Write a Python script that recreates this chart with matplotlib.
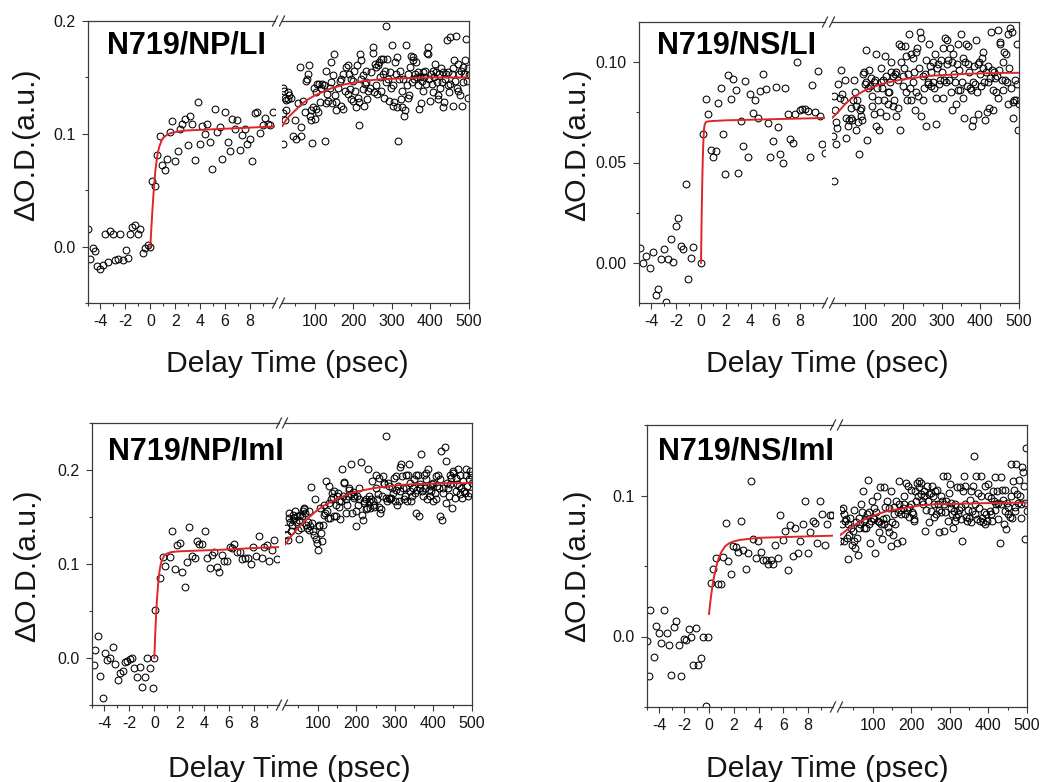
import matplotlib
matplotlib.use("Agg")
import matplotlib.pyplot as plt
from matplotlib.lines import Line2D
from matplotlib.ticker import FixedLocator

plt.rcParams['font.family'] = ['Liberation Sans', 'DejaVu Sans']

W, H = 1043, 782

# ---------------- data (delay time in ps, dOD in a.u.) ----------------
titles = ["N719/NP/LI", "N719/NS/LI", "N719/NP/ImI", "N719/NS/ImI"]
x_label = "Delay Time (psec)"
y_label = "ΔO.D.(a.u.)"

p1_early = [(-5.0,0.016),(-4.8,-0.011),(-4.6,-0.001),(-4.4,-0.004),(-4.26,-0.017),(-4.04,-0.020),(-3.8,-0.016),(-3.6,0.011),(-3.4,-0.014),(-3.24,0.014),(-3.0,0.011),(-2.84,-0.012),(-2.6,-0.011),(-2.44,0.011),(-2.22,-0.012),(-1.98,-0.003),(-1.8,-0.010),(-1.63,0.011),(-1.45,0.017),(-1.23,0.019),(-1.02,0.011),(-0.83,0.016),(-0.59,-0.006),(-0.43,-0.001),(-0.21,0.001),(-0.05,0.0),(0.16,0.058),(0.37,0.054),(0.56,0.081),(0.78,0.098),(0.96,0.072),(1.15,0.068),(1.37,0.078),(1.55,0.102),(1.77,0.111),(1.98,0.076),(2.2,0.085),(2.38,0.104),(2.57,0.109),(2.78,0.113),(3.0,0.090),(3.19,0.116),(3.37,0.109),(3.59,0.077),(3.8,0.128),(3.99,0.091),(4.18,0.107),(4.36,0.100),(4.58,0.109),(4.79,0.093),(4.98,0.069),(5.19,0.122),(5.38,0.102),(5.6,0.106),(5.78,0.078),(5.99,0.119),(6.21,0.093),(6.4,0.085),(6.59,0.113),(6.8,0.104),(6.99,0.112),(7.18,0.086),(7.39,0.099),(7.58,0.104),(7.79,0.091),(8.0,0.095),(8.19,0.076),(8.38,0.118),(8.59,0.119),(8.78,0.101),(9.0,0.108),(9.18,0.114),(9.4,0.109),(9.58,0.108),(9.8,0.119)]
p1_late = [(18,0.141),(20,0.138),(22,0.132),(26,0.130),(31,0.137),(18,0.118),(22,0.112),(26,0.121),(31,0.131),(18,0.091),(33,0.134),(39,0.132),(44,0.098),(48,0.112),(51,0.095),(57,0.127),(61,0.159),(63,0.098),(65,0.106),(70,0.129),(74,0.119),(78,0.147),(80,0.149),(83,0.153),(85,0.161),(87,0.116),(89,0.121),(91,0.112),(92,0.092),(96,0.124),(98,0.141),(100,0.113),(103,0.122),(104,0.137),(106,0.144),(109,0.119),(111,0.144),(113,0.128),(117,0.141),(120,0.144),(124,0.143),(126,0.094),(129,0.127),(130,0.156),(132,0.135),(135,0.129),(139,0.141),(141,0.146),(143,0.164),(145,0.127),(148,0.152),(149,0.171),(152,0.134),(155,0.121),(156,0.128),(161,0.141),(165,0.147),(168,0.149),(169,0.125),(172,0.153),(174,0.122),(178,0.138),(182,0.159),(185,0.161),(187,0.135),(189,0.153),(191,0.140),(194,0.131),(195,0.149),(198,0.129),(200,0.147),(201,0.156),(204,0.138),(207,0.124),(210,0.161),(213,0.132),(214,0.108),(215,0.128),(217,0.171),(219,0.165),(221,0.149),(224,0.140),(226,0.152),(227,0.125),(230,0.144),(232,0.146),(234,0.156),(236,0.131),(239,0.138),(243,0.141),(247,0.155),(250,0.172),(252,0.177),(254,0.137),(256,0.162),(258,0.159),(260,0.143),(262,0.135),(265,0.161),(267,0.164),(269,0.150),(271,0.138),(273,0.166),(276,0.153),(278,0.166),(280,0.132),(282,0.156),(284,0.196),(286,0.146),(288,0.166),(291,0.149),(293,0.129),(295,0.155),(297,0.141),(299,0.179),(302,0.125),(304,0.143),(306,0.128),(308,0.164),(310,0.153),(312,0.168),(314,0.124),(316,0.094),(319,0.149),(321,0.156),(323,0.131),(325,0.138),(327,0.124),(329,0.149),(332,0.116),(334,0.121),(336,0.179),(338,0.143),(341,0.153),(342,0.132),(345,0.134),(347,0.159),(349,0.169),(351,0.146),(354,0.168),(355,0.165),(358,0.149),(360,0.153),(362,0.164),(364,0.150),(367,0.143),(368,0.155),(371,0.122),(373,0.150),(375,0.127),(377,0.147),(380,0.155),(381,0.138),(384,0.150),(386,0.156),(388,0.144),(390,0.172),(393,0.171),(394,0.177),(397,0.149),(399,0.129),(401,0.153),(403,0.144),(406,0.156),(407,0.137),(410,0.150),(412,0.162),(414,0.155),(416,0.146),(419,0.131),(420,0.134),(423,0.153),(425,0.141),(427,0.158),(429,0.146),(432,0.155),(433,0.124),(436,0.128),(438,0.149),(440,0.153),(442,0.183),(445,0.143),(446,0.155),(449,0.137),(451,0.144),(452,0.186),(455,0.153),(458,0.125),(459,0.158),(461,0.165),(464,0.147),(466,0.187),(468,0.141),(471,0.162),(472,0.138),(475,0.153),(477,0.134),(479,0.156),(481,0.125),(484,0.159),(485,0.146),(488,0.153),(490,0.165),(492,0.184),(494,0.147),(497,0.158),(498,0.132),(500,0.152)]
p1_fit_early_t = [0, 0.1, 0.2, 0.3, 0.4, 0.5, 0.6, 0.7, 0.8, 0.9, 1.0, 1.2, 1.4, 1.6, 1.8, 2.0, 2.5, 3, 4, 5, 6, 7, 8, 9, 10]
p1_fit_early_od = [0, 0.020, 0.038, 0.054, 0.067, 0.076, 0.083, 0.088, 0.091, 0.094, 0.096, 0.098, 0.0995, 0.1005, 0.101, 0.1015, 0.1025, 0.103, 0.1035, 0.104, 0.1045, 0.105, 0.1055, 0.106, 0.1065]
p1_fit_late_t = [16, 25, 35, 50, 65, 80, 100, 120, 140, 160, 180, 200, 230, 260, 300, 350, 400, 450, 500]
p1_fit_late_od = [0.107, 0.112, 0.116, 0.121, 0.126, 0.130, 0.134, 0.137, 0.140, 0.142, 0.144, 0.1452, 0.147, 0.148, 0.1488, 0.1495, 0.150, 0.150, 0.150]

p2_early = [(-4.95,0.0074),(-4.68,0.0),(-4.46,0.0033),(-4.09,-0.0026),(-3.87,0.0054),(-3.6,-0.016),(-3.44,-0.0129),(-3.25,0.0017),(-3.0,0.0071),(-2.82,-0.0193),(-2.63,0.002),(-2.45,0.0117),(-2.23,0.0003),(-2.04,0.0185),(-1.83,0.0223),(-1.64,0.0084),(-1.45,0.0069),(-1.24,0.0393),(-1.05,-0.0078),(-0.83,0.0026),(-0.62,0.0079),(-0.03,0.0),(0.16,0.0644),(0.38,0.0814),(0.59,0.0743),(0.81,0.0564),(0.99,0.0528),(1.18,0.0558),(1.4,0.0795),(1.59,0.0871),(1.77,0.0644),(1.96,0.0442),(2.18,0.0934),(2.39,0.0814),(2.58,0.0917),(2.8,0.086),(2.98,0.0446),(3.2,0.0706),(3.39,0.0583),(3.58,0.0908),(3.76,0.0525),(3.98,0.0842),(4.17,0.0748),(4.35,0.081),(4.57,0.0723),(4.78,0.0858),(5.0,0.094),(5.22,0.0866),(5.4,0.0698),(5.59,0.0528),(5.81,0.0607),(6.02,0.0875),(6.21,0.0677),(6.4,0.0541),(6.61,0.0498),(6.8,0.0871),(7.02,0.0743),(7.2,0.0616),(7.39,0.0599),(7.58,0.0743),(7.77,0.1),(7.96,0.0764),(8.15,0.0769),(8.36,0.0769),(8.6,0.0756),(8.82,0.0525),(8.98,0.0888),(9.22,0.0752),(9.41,0.0954),(9.6,0.0731),(9.78,0.0591),(9.97,0.0545)]
p2_late = [(19,0.041),(19,0.083),(22,0.076),(18,0.063),(26,0.059),(25,0.070),(28,0.067),(31,0.089),(35,0.082),(39,0.096),(42,0.084),(45,0.081),(48,0.091),(51,0.062),(52,0.072),(57,0.068),(59,0.071),(63,0.072),(65,0.077),(68,0.071),(70,0.081),(71,0.091),(74,0.085),(77,0.078),(78,0.066),(80,0.081),(83,0.070),(85,0.054),(87,0.076),(89,0.073),(91,0.077),(94,0.071),(96,0.094),(98,0.095),(100,0.089),(103,0.090),(104,0.106),(106,0.061),(109,0.087),(111,0.096),(113,0.088),(116,0.092),(118,0.083),(120,0.078),(123,0.090),(125,0.074),(127,0.091),(129,0.068),(130,0.104),(132,0.087),(135,0.081),(137,0.066),(139,0.075),(141,0.090),(143,0.097),(145,0.087),(148,0.091),(149,0.081),(152,0.103),(155,0.093),(156,0.073),(159,0.079),(161,0.085),(163,0.085),(165,0.090),(168,0.095),(169,0.100),(172,0.093),(174,0.078),(176,0.081),(178,0.094),(181,0.095),(182,0.073),(185,0.091),(187,0.077),(189,0.109),(191,0.066),(194,0.108),(195,0.100),(198,0.093),(200,0.088),(201,0.097),(204,0.108),(207,0.085),(208,0.103),(210,0.081),(213,0.094),(215,0.114),(217,0.087),(220,0.104),(221,0.081),(224,0.090),(226,0.102),(228,0.095),(230,0.076),(232,0.105),(234,0.085),(236,0.107),(239,0.083),(241,0.097),(243,0.115),(245,0.112),(247,0.073),(250,0.093),(252,0.081),(254,0.087),(256,0.094),(258,0.101),(260,0.068),(263,0.089),(265,0.090),(267,0.109),(269,0.098),(271,0.088),(273,0.095),(276,0.090),(278,0.100),(280,0.087),(282,0.104),(284,0.082),(286,0.069),(288,0.097),(291,0.099),(293,0.089),(295,0.091),(297,0.101),(299,0.095),(302,0.082),(303,0.107),(305,0.091),(308,0.112),(310,0.090),(312,0.111),(314,0.099),(316,0.101),(319,0.091),(321,0.107),(323,0.085),(325,0.076),(327,0.100),(329,0.104),(332,0.094),(334,0.090),(336,0.079),(338,0.099),(341,0.109),(342,0.086),(345,0.096),(347,0.086),(349,0.114),(351,0.090),(354,0.102),(355,0.082),(358,0.072),(360,0.100),(362,0.109),(364,0.088),(367,0.099),(368,0.108),(371,0.095),(373,0.087),(375,0.086),(377,0.068),(380,0.090),(381,0.071),(384,0.098),(386,0.089),(388,0.111),(390,0.085),(393,0.074),(394,0.099),(397,0.100),(399,0.094),(401,0.088),(403,0.102),(406,0.097),(407,0.105),(409,0.090),(412,0.071),(414,0.095),(416,0.075),(419,0.090),(420,0.098),(423,0.077),(425,0.092),(427,0.115),(429,0.096),(432,0.076),(433,0.086),(435,0.095),(438,0.092),(440,0.085),(442,0.093),(445,0.082),(446,0.116),(449,0.096),(451,0.109),(452,0.110),(455,0.091),(458,0.100),(459,0.086),(462,0.105),(464,0.091),(466,0.104),(468,0.090),(471,0.079),(472,0.114),(475,0.097),(477,0.117),(478,0.087),(481,0.115),(484,0.080),(485,0.072),(487,0.081),(490,0.091),(492,0.081),(494,0.109),(496,0.089),(498,0.066),(500,0.079)]
p2_fit_early_t = [0, 0.05, 0.1, 0.15, 0.2, 0.25, 0.3, 0.4, 0.6, 1, 2, 4, 6, 8, 10]
p2_fit_early_od = [0, 0.022, 0.040, 0.053, 0.062, 0.067, 0.069, 0.0702, 0.0705, 0.0707, 0.071, 0.0713, 0.0716, 0.0719, 0.0722]
p2_fit_late_t = [16, 30, 52, 70, 96, 120, 139, 160, 182, 200, 226, 250, 269, 300, 355, 400, 442, 500]
p2_fit_late_od = [0.0723, 0.075, 0.0797, 0.0825, 0.0855, 0.0875, 0.0888, 0.0899, 0.0908, 0.0915, 0.0921, 0.0927, 0.0932, 0.0935, 0.0941, 0.0944, 0.0946, 0.0947]

p3_early = [(-4.85,-0.007),(-4.77,0.009),(-4.53,0.023),(-4.32,-0.019),(-4.13,-0.043),(-3.97,0.005),(-3.79,-0.002),(-3.52,0.0),(-3.31,0.012),(-3.12,-0.006),(-2.93,-0.023),(-2.72,-0.016),(-2.53,-0.014),(-2.37,-0.004),(-2.19,-0.003),(-1.97,-0.001),(-1.79,0.0),(-1.6,-0.011),(-1.39,-0.02),(-1.17,-0.01),(-0.99,-0.031),(-0.77,-0.02),(-0.59,0.0),(-0.37,-0.011),(-0.13,-0.032),(0.0,0.0),(0.08,0.051),(0.43,0.085),(0.69,0.107),(0.88,0.098),(1.23,0.107),(1.41,0.135),(1.63,0.095),(1.81,0.12),(2.03,0.122),(2.21,0.092),(2.43,0.076),(2.61,0.102),(2.8,0.139),(3.01,0.108),(3.23,0.106),(3.41,0.124),(3.6,0.121),(3.81,0.121),(4.03,0.135),(4.21,0.106),(4.43,0.096),(4.61,0.11),(4.8,0.113),(5.01,0.097),(5.2,0.091),(5.41,0.11),(5.6,0.103),(5.81,0.103),(6.03,0.118),(6.21,0.117),(6.43,0.121),(6.67,0.113),(6.88,0.113),(7.07,0.105),(7.28,0.106),(7.49,0.106),(7.73,0.1),(7.95,0.118),(8.16,0.108),(8.4,0.13),(8.61,0.106),(8.8,0.118),(9.01,0.12),(9.23,0.103),(9.41,0.115),(9.6,0.126),(9.81,0.105)]
p3_late = [(18,0.138),(19,0.131),(22,0.126),(25,0.149),(26,0.154),(28,0.145),(31,0.135),(33,0.142),(35,0.152),(37,0.147),(39,0.149),(42,0.156),(44,0.145),(45,0.151),(48,0.136),(51,0.127),(52,0.147),(54,0.152),(57,0.138),(59,0.151),(61,0.156),(63,0.159),(65,0.160),(68,0.154),(70,0.142),(71,0.138),(74,0.145),(77,0.136),(78,0.156),(80,0.140),(83,0.182),(85,0.144),(87,0.135),(91,0.131),(94,0.169),(96,0.127),(98,0.122),(100,0.115),(103,0.140),(104,0.142),(106,0.160),(109,0.133),(111,0.124),(113,0.142),(115,0.163),(117,0.152),(120,0.154),(122,0.188),(123,0.156),(126,0.149),(129,0.165),(130,0.183),(132,0.149),(135,0.169),(137,0.176),(139,0.171),(141,0.178),(143,0.151),(146,0.151),(148,0.163),(149,0.172),(152,0.176),(155,0.161),(156,0.167),(158,0.148),(161,0.167),(163,0.201),(165,0.172),(168,0.186),(169,0.187),(172,0.154),(174,0.169),(175,0.163),(178,0.172),(181,0.181),(182,0.179),(185,0.174),(187,0.206),(189,0.154),(191,0.177),(193,0.170),(195,0.172),(198,0.140),(200,0.156),(201,0.172),(204,0.163),(207,0.181),(208,0.169),(213,0.208),(215,0.152),(217,0.147),(219,0.165),(221,0.167),(224,0.158),(226,0.169),(228,0.160),(230,0.201),(232,0.167),(234,0.172),(236,0.160),(239,0.169),(241,0.188),(243,0.167),(245,0.161),(247,0.163),(250,0.181),(252,0.195),(253,0.169),(256,0.174),(258,0.161),(260,0.192),(262,0.154),(265,0.158),(267,0.172),(269,0.194),(271,0.186),(273,0.185),(276,0.236),(278,0.170),(279,0.167),(282,0.186),(284,0.170),(286,0.183),(288,0.169),(291,0.170),(293,0.181),(295,0.176),(297,0.192),(299,0.167),(302,0.194),(303,0.179),(305,0.163),(308,0.183),(310,0.167),(312,0.203),(314,0.178),(316,0.206),(319,0.194),(321,0.181),(323,0.169),(325,0.172),(328,0.195),(329,0.181),(332,0.167),(334,0.195),(336,0.206),(338,0.178),(340,0.186),(342,0.167),(345,0.172),(347,0.181),(349,0.190),(351,0.176),(354,0.154),(355,0.195),(358,0.179),(360,0.195),(362,0.151),(364,0.181),(366,0.185),(368,0.217),(371,0.178),(373,0.172),(375,0.195),(377,0.181),(380,0.197),(381,0.190),(383,0.169),(386,0.201),(388,0.179),(390,0.183),(392,0.172),(394,0.178),(397,0.185),(399,0.186),(400,0.167),(403,0.176),(406,0.194),(407,0.169),(409,0.183),(412,0.195),(414,0.181),(416,0.190),(418,0.151),(420,0.220),(423,0.147),(425,0.181),(426,0.176),(429,0.224),(432,0.210),(433,0.165),(435,0.186),(438,0.181),(440,0.172),(442,0.195),(444,0.185),(446,0.192),(449,0.160),(451,0.197),(452,0.199),(455,0.170),(458,0.178),(459,0.192),(461,0.185),(464,0.201),(466,0.183),(468,0.195),(470,0.174),(472,0.181),(475,0.170),(477,0.188),(478,0.178),(481,0.176),(484,0.195),(485,0.201),(487,0.183),(490,0.172),(492,0.190),(494,0.199),(496,0.176),(498,0.195),(500,0.186)]
p3_fit_early_t = [0, 0.05, 0.1, 0.15, 0.2, 0.3, 0.4, 0.5, 0.6, 0.8, 1.0, 1.3, 1.6, 2, 3, 4, 6, 8, 10]
p3_fit_early_od = [0, 0.018, 0.034, 0.048, 0.060, 0.078, 0.091, 0.099, 0.104, 0.109, 0.111, 0.1125, 0.113, 0.1135, 0.114, 0.1145, 0.1155, 0.117, 0.118]
p3_fit_late_t = [16, 30, 52, 70, 95, 115, 138, 160, 182, 200, 225, 250, 268, 311, 355, 400, 441, 500]
p3_fit_late_od = [0.121, 0.129, 0.140, 0.147, 0.156, 0.162, 0.167, 0.171, 0.175, 0.177, 0.179, 0.181, 0.182, 0.184, 0.185, 0.1855, 0.186, 0.186]

p4_early = [(-4.97,-0.0033),(-4.87,-0.0281),(-4.78,0.0189),(-4.44,-0.0147),(-4.25,0.0078),(-4.06,0.0024),(-3.84,-0.0045),(-3.63,0.0189),(-3.41,0.0028),(-3.23,-0.0057),(-3.04,-0.0274),(-2.82,0.0066),(-2.63,0.0109),(-2.45,-0.0057),(-2.23,-0.0281),(-2.04,-0.0017),(-1.85,-0.0028),(-1.64,0.005),(-1.45,0.0),(-1.26,-0.0203),(-1.05,0.0061),(-0.86,-0.0203),(-0.67,-0.0151),(-0.46,0.0),(-0.27,-0.0494),(-0.08,0.0),(0.13,0.0378),(0.35,0.0482),(0.54,0.0558),(0.73,0.0369),(0.94,0.0374),(1.13,0.0563),(1.34,0.0804),(1.53,0.0539),(1.75,0.044),(1.94,0.0641),(2.15,0.0634),(2.34,0.06),(2.55,0.0818),(2.77,0.061),(2.96,0.0482),(3.15,0.0593),(3.36,0.1106),(3.55,0.0688),(3.76,0.0558),(3.95,0.0676),(4.17,0.0598),(4.38,0.0546),(4.57,0.0546),(4.76,0.0515),(4.97,0.0546),(5.16,0.0515),(5.35,0.0648),(5.56,0.0558),(5.75,0.0861),(5.97,0.0681),(6.16,0.0747),(6.37,0.0475),(6.56,0.0794),(6.75,0.057),(6.96,0.0771),(7.18,0.0593),(7.37,0.0676),(7.55,0.0799),(7.77,0.096),(7.98,0.0593),(8.17,0.0742),(8.36,0.0818),(8.55,0.0806),(8.74,0.0664),(8.95,0.096),(9.14,0.087),(9.33,0.0648),(9.54,0.0799),(9.73,0.0861),(9.92,0.0865)]
p4_late = [(16,0.068),(18,0.090),(19,0.080),(22,0.091),(25,0.087),(26,0.068),(28,0.082),(31,0.083),(33,0.070),(35,0.055),(37,0.080),(39,0.072),(42,0.084),(44,0.077),(45,0.065),(48,0.075),(51,0.068),(52,0.090),(54,0.063),(57,0.081),(59,0.070),(61,0.058),(63,0.077),(65,0.084),(68,0.080),(70,0.094),(71,0.088),(74,0.103),(77,0.082),(78,0.077),(80,0.083),(83,0.077),(85,0.087),(87,0.111),(89,0.080),(91,0.088),(94,0.066),(96,0.082),(98,0.096),(100,0.084),(103,0.091),(104,0.083),(106,0.059),(109,0.088),(111,0.100),(113,0.082),(115,0.074),(117,0.081),(120,0.106),(122,0.080),(123,0.069),(126,0.083),(129,0.106),(130,0.080),(132,0.092),(135,0.084),(137,0.096),(139,0.078),(141,0.091),(143,0.074),(146,0.064),(148,0.103),(149,0.081),(152,0.072),(155,0.087),(156,0.092),(158,0.080),(161,0.096),(163,0.066),(165,0.088),(167,0.094),(169,0.110),(172,0.087),(174,0.090),(175,0.068),(178,0.091),(181,0.100),(182,0.094),(184,0.087),(187,0.109),(189,0.090),(191,0.107),(193,0.085),(195,0.092),(198,0.104),(200,0.094),(201,0.088),(204,0.087),(207,0.083),(208,0.082),(210,0.103),(213,0.096),(215,0.109),(217,0.100),(219,0.110),(221,0.106),(224,0.101),(226,0.109),(227,0.096),(230,0.094),(232,0.100),(234,0.103),(236,0.075),(239,0.090),(241,0.107),(243,0.096),(245,0.081),(247,0.101),(250,0.102),(252,0.089),(253,0.107),(256,0.100),(258,0.094),(260,0.085),(262,0.103),(265,0.087),(267,0.104),(269,0.094),(271,0.090),(273,0.074),(276,0.100),(278,0.088),(279,0.096),(282,0.114),(284,0.075),(286,0.094),(288,0.088),(291,0.096),(293,0.114),(295,0.082),(297,0.102),(299,0.108),(302,0.095),(303,0.091),(305,0.087),(308,0.077),(310,0.089),(312,0.094),(314,0.082),(316,0.085),(319,0.106),(321,0.087),(323,0.090),(325,0.106),(328,0.092),(329,0.083),(331,0.068),(334,0.103),(336,0.114),(338,0.094),(340,0.107),(342,0.085),(345,0.082),(347,0.090),(349,0.084),(351,0.097),(354,0.081),(355,0.103),(358,0.089),(360,0.107),(362,0.128),(364,0.094),(366,0.087),(368,0.114),(371,0.083),(373,0.102),(375,0.091),(377,0.082),(380,0.114),(381,0.100),(383,0.084),(386,0.081),(388,0.088),(390,0.107),(392,0.080),(394,0.087),(397,0.082),(399,0.100),(400,0.108),(403,0.089),(406,0.098),(407,0.087),(409,0.082),(412,0.103),(414,0.096),(416,0.090),(418,0.113),(420,0.094),(423,0.103),(425,0.083),(426,0.095),(429,0.066),(432,0.113),(433,0.094),(435,0.104),(438,0.097),(440,0.080),(442,0.089),(444,0.104),(446,0.076),(449,0.095),(451,0.087),(452,0.092),(455,0.085),(458,0.122),(459,0.100),(461,0.084),(464,0.110),(466,0.104),(468,0.092),(470,0.089),(472,0.122),(475,0.101),(477,0.095),(478,0.111),(481,0.100),(484,0.084),(485,0.094),(487,0.120),(490,0.117),(492,0.107),(494,0.095),(496,0.069),(498,0.134),(500,0.089)]
p4_fit_early_t = [0, 0.1, 0.2, 0.3, 0.4, 0.6, 0.8, 1.0, 1.3, 1.6, 2.0, 2.5, 3, 4, 6, 8, 10]
p4_fit_early_od = [0.016, 0.024, 0.031, 0.037, 0.042, 0.050, 0.056, 0.060, 0.064, 0.066, 0.0675, 0.0685, 0.069, 0.070, 0.0705, 0.071, 0.0715]
p4_fit_late_t = [16, 30, 52, 70, 95, 115, 138, 160, 182, 200, 225, 250, 268, 300, 355, 420, 500]
p4_fit_late_od = [0.072, 0.075, 0.079, 0.082, 0.085, 0.087, 0.089, 0.090, 0.091, 0.092, 0.093, 0.0935, 0.094, 0.094, 0.0944, 0.0947, 0.095]

# y axis definitions
p1_ylim, p1_yticks, p1_ylabels, p1_yminor = (-0.05, 0.2), [0.0, 0.1, 0.2], ["0.0", "0.1", "0.2"], [-0.05, 0.05, 0.15]
p2_ylim, p2_yticks, p2_ylabels, p2_yminor = (-0.02, 0.12), [0.0, 0.05, 0.10], ["0.00", "0.05", "0.10"], [0.025, 0.075]
p3_ylim, p3_yticks, p3_ylabels, p3_yminor = (-0.05, 0.25), [0.0, 0.1, 0.2], ["0.0", "0.1", "0.2"], [-0.05, 0.05, 0.15, 0.25]
p4_ylim, p4_yticks, p4_ylabels, p4_yminor = (-0.05, 0.15), [0.0, 0.1], ["0.0", "0.1"], [-0.05, 0.05, 0.15]

early_xticks = [-4, -2, 0, 2, 4, 6, 8]
early_xlabels = ["-4", "-2", "0", "2", "4", "6", "8"]
early_xminor = [-5, -3, -1, 1, 3, 5, 7, 9]
late_xticks = [100, 200, 300, 400, 500]
late_xlabels = ["100", "200", "300", "400", "500"]
late_xminor = [50, 150, 250, 350, 450]

# ---------------- drawing ----------------
fig = plt.figure(figsize=(W / 100, H / 100), dpi=100)

SPINE = "#3a3a3a"
TXT = "#151515"
RED = "#e0242b"


def rect(l, r, t, b):
    return [l / W, 1 - b / H, (r - l) / W, (b - t) / H]


def style(ax):
    ax.tick_params(which="both", direction="out", color=SPINE, width=0.8,
                   labelsize=11.5, labelcolor=TXT, top=False, right=False)
    ax.tick_params(which="major", length=4, pad=4)
    ax.tick_params(which="minor", length=2.5)
    for s in ax.spines.values():
        s.set_color(SPINE)
        s.set_linewidth(0.9)


def draw_points(ax, pts):
    t = [p[0] for p in pts]
    od = [p[1] for p in pts]
    ax.plot(t, od, linestyle="none", marker="o", ms=4.9, mfc="none",
            mec="black", mew=0.75, zorder=2)


def panel(box, ylim, yticks, ylabels, yminor, title, title_xy, ylab_xy, xlab_xy,
          early, late, fe_t, fe_od, fl_t, fl_od):
    l, lr, rl, r, t, b = box
    axL = fig.add_axes(rect(l, lr, t, b))
    axR = fig.add_axes(rect(rl, r, t, b))
    for ax in (axL, axR):
        ax.set_ylim(*ylim)
        style(ax)
    axL.set_xlim(-5, 10)
    axR.set_xlim(15, 500)
    axL.spines["right"].set_visible(False)
    axR.spines["left"].set_visible(False)

    axL.xaxis.set_major_locator(FixedLocator(early_xticks))
    axL.set_xticklabels(early_xlabels)
    axL.xaxis.set_minor_locator(FixedLocator(early_xminor))
    axR.xaxis.set_major_locator(FixedLocator(late_xticks))
    axR.set_xticklabels(late_xlabels)
    axR.xaxis.set_minor_locator(FixedLocator(late_xminor))

    axL.yaxis.set_major_locator(FixedLocator(yticks))
    axL.set_yticklabels(ylabels)
    axL.yaxis.set_minor_locator(FixedLocator(yminor))
    axL.tick_params(axis="y", which="major", pad=5)
    axR.tick_params(axis="y", which="both", left=False, right=False,
                    labelleft=False)

    draw_points(axL, early)
    draw_points(axR, late)
    axL.plot(fe_t, fe_od, color=RED, lw=1.4, zorder=3)
    axR.plot(fl_t, fl_od, color=RED, lw=1.4, zorder=3)

    # axis break marks
    for xpx in (lr, rl):
        for ypx in (t, b):
            fig.add_artist(Line2D([(xpx - 2.5) / W, (xpx + 2.5) / W],
                                  [1 - (ypx + 5) / H, 1 - (ypx - 5) / H],
                                  color=SPINE, lw=0.9))

    fig.text(title_xy[0] / W, 1 - title_xy[1] / H, title, fontsize=22,
             fontweight="bold", ha="left", va="baseline", color="black")
    fig.text(ylab_xy[0] / W, 1 - ylab_xy[1] / H, y_label, fontsize=21.7,
             rotation=90, ha="center", va="center", color=TXT)
    fig.text(xlab_xy[0] / W, 1 - xlab_xy[1] / H, x_label, fontsize=21.7,
             ha="center", va="baseline", color=TXT)


panel((88, 275, 282, 469, 21, 303), p1_ylim, p1_yticks, p1_ylabels, p1_yminor,
      titles[0], (107, 53), (26, 145), (287, 372),
      p1_early, p1_late, p1_fit_early_t, p1_fit_early_od, p1_fit_late_t, p1_fit_late_od)
panel((639, 825, 832, 1019, 22, 303), p2_ylim, p2_yticks, p2_ylabels, p2_yminor,
      titles[1], (657, 53), (577, 145), (827, 372),
      p2_early, p2_late, p2_fit_early_t, p2_fit_early_od, p2_fit_late_t, p2_fit_late_od)
panel((92, 279, 285, 472, 423, 705), p3_ylim, p3_yticks, p3_ylabels, p3_yminor,
      titles[2], (108, 459), (27, 566), (289, 777),
      p3_early, p3_late, p3_fit_early_t, p3_fit_early_od, p3_fit_late_t, p3_fit_late_od)
panel((647, 833, 840, 1027, 425, 707), p4_ylim, p4_yticks, p4_ylabels, p4_yminor,
      titles[3], (658, 459), (577, 566), (827, 777),
      p4_early, p4_late, p4_fit_early_t, p4_fit_early_od, p4_fit_late_t, p4_fit_late_od)

fig.savefig("out.png", dpi=100, facecolor="white")
